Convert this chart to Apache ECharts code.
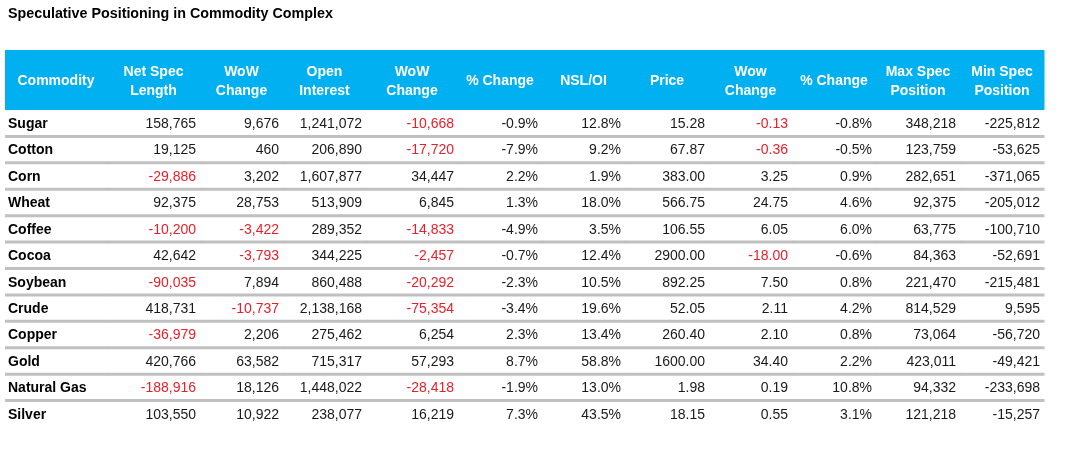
<!DOCTYPE html>
<html>
<head>
<meta charset="utf-8">
<script src="https://cdn.jsdelivr.net/npm/echarts@6/dist/echarts.min.js"></script>
<style>
html,body{margin:0;padding:0;background:#fff;}
#chart{width:1079px;height:457px;}
</style>
</head>
<body>
<div id="chart"></div>
<script>
// ---- data ----
const headers = ['Commodity', 'Net Spec\nLength', 'WoW\nChange', 'Open\nInterest', 'WoW\nChange', '% Change', 'NSL/OI', 'Price', 'Wow\nChange', '% Change', 'Max Spec\nPosition', 'Min Spec\nPosition'];
const commodities = ['Sugar', 'Cotton', 'Corn', 'Wheat', 'Coffee', 'Cocoa', 'Soybean', 'Crude', 'Copper', 'Gold', 'Natural Gas', 'Silver'];
const netSpecLength = [158765, 19125, -29886, 92375, -10200, 42642, -90035, 418731, -36979, 420766, -188916, 103550];
const nslWowChange = [9676, 460, 3202, 28753, -3422, -3793, 7894, -10737, 2206, 63582, 18126, 10922];
const openInterest = [1241072, 206890, 1607877, 513909, 289352, 344225, 860488, 2138168, 275462, 715317, 1448022, 238077];
const oiWowChange = [-10668, -17720, 34447, 6845, -14833, -2457, -20292, -75354, 6254, 57293, -28418, 16219];
const oiPctChange = [-0.9, -7.9, 2.2, 1.3, -4.9, -0.7, -2.3, -3.4, 2.3, 8.7, -1.9, 7.3];
const nslOverOi = [12.8, 9.2, 1.9, 18.0, 3.5, 12.4, 10.5, 19.6, 13.4, 58.8, 13.0, 43.5];
const price = [15.28, 67.87, 383.00, 566.75, 106.55, 2900.00, 892.25, 52.05, 260.40, 1600.00, 1.98, 18.15];
const priceWowChange = [-0.13, -0.36, 3.25, 24.75, 6.05, -18.00, 7.50, 2.11, 2.10, 34.40, 0.19, 0.55];
const pricePctChange = [-0.8, -0.5, 0.9, 4.6, 6.0, -0.6, 0.8, 4.2, 0.8, 2.2, 10.8, 3.1];
const maxSpecPosition = [348218, 123759, 282651, 92375, 63775, 84363, 221470, 814529, 73064, 423011, 94332, 121218];
const minSpecPosition = [-225812, -53625, -371065, -205012, -100710, -52691, -215481, 9595, -56720, -49421, -233698, -15257];

// ---- layout / style ----
const COL_WIDTHS = [102, 93, 83, 83, 92, 84, 83, 84, 83, 84, 84, 84];
const HEADER_H = 60;
const FONT = "'Liberation Sans', Arial, sans-serif";
const BLUE = '#00B0F0';
const RED = '#E8202A';
const LINE = '#C0C0C0';

const edges = [0];
COL_WIDTHS.forEach(w => edges.push(edges[edges.length - 1] + w));
const totalW = edges[edges.length - 1];

const fmtInt = v => v.toLocaleString('en-US');
const fmtPct = v => v.toFixed(1) + '%';
const fmt2 = v => v.toFixed(2);

const columns = [
  { vals: netSpecLength, fmt: fmtInt, redNeg: true },
  { vals: nslWowChange, fmt: fmtInt, redNeg: true },
  { vals: openInterest, fmt: fmtInt, redNeg: false },
  { vals: oiWowChange, fmt: fmtInt, redNeg: true },
  { vals: oiPctChange, fmt: fmtPct, redNeg: false },
  { vals: nslOverOi, fmt: fmtPct, redNeg: false },
  { vals: price, fmt: fmt2, redNeg: false },
  { vals: priceWowChange, fmt: fmt2, redNeg: true },
  { vals: pricePctChange, fmt: fmtPct, redNeg: false },
  { vals: maxSpecPosition, fmt: fmtInt, redNeg: false },
  { vals: minSpecPosition, fmt: fmtInt, redNeg: false }
];

const bodyData = [];
commodities.forEach((name, r) => {
  bodyData.push([0, r]);
  columns.forEach((c, ci) => bodyData.push([ci + 1, r]));
});
const headerData = headers.map((h, i) => [i, 0]);

function cellText(col, row) {
  if (col === 0) return { text: commodities[row], color: '#000', bold: true };
  const c = columns[col - 1];
  const v = c.vals[row];
  return { text: c.fmt(v), color: (c.redNeg && v < 0) ? RED : '#1a1a1a', bold: false };
}

const chart = echarts.init(document.getElementById('chart'));
chart.setOption({
  animation: false,
  backgroundColor: '#fff',
  title: {
    text: 'Speculative Positioning in Commodity Complex',
    left: 8, top: 7, padding: 0,
    textStyle: { fontFamily: FONT, fontSize: 14.3, fontWeight: 'bold', color: '#000' }
  },
  grid: { left: 5, right: 35, top: 110, bottom: 30 },
  xAxis: { type: 'value', min: 0, max: totalW, show: false },
  yAxis: { type: 'category', data: commodities, inverse: true, show: false },
  series: [
    {
      type: 'custom',
      data: headerData,
      renderItem: function (params, api) {
        const col = api.value(0);
        const x0 = api.coord([edges[col], commodities[0]])[0];
        const x1 = api.coord([edges[col + 1], commodities[0]])[0];
        const top = params.coordSys.y - HEADER_H;
        return {
          type: 'group',
          children: [
            { type: 'rect', shape: { x: x0, y: top, width: x1 - x0 + 0.5, height: HEADER_H }, style: { fill: BLUE } },
            { type: 'text', style: { text: headers[col], x: (x0 + x1) / 2, y: top + HEADER_H / 2 + 1.5, align: 'center', verticalAlign: 'middle', fill: '#fff', font: 'bold 14px ' + FONT, lineHeight: 19 } }
          ]
        };
      }
    },
    {
      type: 'custom',
      data: bodyData,
      renderItem: function (params, api) {
        const col = api.value(0);
        const row = api.value(1);
        const c = api.coord([edges[col], commodities[row]]);
        const x0 = c[0];
        const x1 = api.coord([edges[col + 1], commodities[row]])[0];
        const bh = api.size([0, 1])[1];
        const cy = c[1];
        const t = cellText(col, row);
        const children = [];
        if (row < commodities.length - 1) {
          children.push({ type: 'rect', shape: { x: x0, y: cy + bh / 2 - 1.5, width: x1 - x0 + 0.5, height: 3 }, style: { fill: LINE } });
        }
        children.push({
          type: 'text',
          style: {
            text: t.text,
            x: col === 0 ? x0 + 3 : x1 - 4,
            y: cy + 1,
            align: col === 0 ? 'left' : 'right',
            verticalAlign: 'middle',
            fill: t.color,
            font: (t.bold ? 'bold ' : '') + '14px ' + FONT
          }
        });
        return { type: 'group', children: children };
      }
    }
  ]
});
</script>
</body>
</html>
